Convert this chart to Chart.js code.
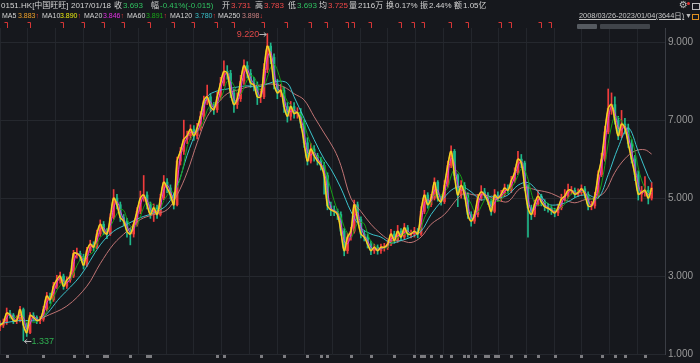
<!DOCTYPE html>
<html><head><meta charset="utf-8">
<script src="https://cdn.jsdelivr.net/npm/chart.js@4.4.0/dist/chart.umd.min.js"></script>
<style>
html,body{margin:0;padding:0;background:#16181d;}
#wrap{position:relative;width:700px;height:363px;overflow:hidden;font-family:"Liberation Sans","Noto Sans CJK SC",sans-serif;}
#c{position:absolute;left:0;top:0;}
.t{position:absolute;white-space:nowrap;font-size:8px;line-height:12px;color:#d4d4d4;top:0px;}
.r2{top:10px;font-size:7px;}
.g{color:#30c060;}.rd{color:#f04848;}
.ar{color:#e83a3a;}
</style></head><body>
<div id="wrap">
<canvas id="c" width="700" height="363"></canvas>
<span class="t" style="left:1px">0151.HK[中国旺旺]</span>
<span class="t" style="left:71px">2017/01/18</span>
<span class="t" style="left:114px">收</span><span class="t g" style="left:123px">3.693</span>
<span class="t" style="left:151px">幅</span><span class="t g" style="left:160px">-0.41%(-0.015)</span>
<span class="t" style="left:222px">开</span><span class="t rd" style="left:231px">3.731</span>
<span class="t" style="left:255px">高</span><span class="t rd" style="left:264px">3.783</span>
<span class="t" style="left:288px">低</span><span class="t g" style="left:297px">3.693</span>
<span class="t" style="left:319px">均</span><span class="t rd" style="left:328px">3.725</span>
<span class="t" style="left:349px">量</span><span class="t" style="left:358px">2116万</span>
<span class="t" style="left:386px">换</span><span class="t" style="left:395px">0.17%</span>
<span class="t" style="left:420px">振</span><span class="t" style="left:429px">2.44%</span>
<span class="t" style="left:454px">额</span><span class="t" style="left:463px">1.05亿</span>

<span class="t r2" style="left:2px">MA5</span><span class="t r2" style="left:18px;color:#f0a028">3.883<span class="ar">↑</span></span>
<span class="t r2" style="left:42px">MA10</span><span class="t r2" style="left:60px;color:#e8e810">3.890<span class="ar">↑</span></span>
<span class="t r2" style="left:84px">MA20</span><span class="t r2" style="left:103px;color:#e030e0">3.846<span class="ar">↑</span></span>
<span class="t r2" style="left:127px">MA60</span><span class="t r2" style="left:146px;color:#18a818">3.891<span class="ar">↑</span></span>
<span class="t r2" style="left:170px">MA120</span><span class="t r2" style="left:195px;color:#38c0c8">3.780<span class="ar">↑</span></span>
<span class="t r2" style="left:218px">MA250</span><span class="t r2" style="left:242px;color:#c88080">3.898<span class="ar">↓</span></span>

<span class="t" style="left:579px;top:10px;font-size:7.4px;text-decoration:underline;color:#c8c8c8">2008/03/26-2023/01/04(3644日)</span>
<span class="t" style="left:685px;top:10px;font-size:7px;color:#bbb">▼</span>
<div style="position:absolute;left:692px;top:14px;width:5px;height:4px;border:1px solid #e09020;"></div>
<span class="t" style="left:679px;top:-1px;font-size:10px;color:#bbb;font-family:'DejaVu Sans'">⚙</span>
<div style="position:absolute;left:687px;top:2px;width:3px;height:3px;border-radius:2px;background:#e03030;"></div>
<div style="position:absolute;left:692px;top:3px;width:6px;height:5px;border:1px solid #bbb;"></div>
<div style="position:absolute;left:577px;top:24px;width:20px;height:5px;background:#555a60;border-radius:1px;"></div>
<div style="position:absolute;left:600px;top:24px;width:50px;height:5px;background:#40444a;border-radius:1px;"></div>
</div>
<script>
const closes = [1.74,1.80,2.05,2.00,1.86,1.86,2.14,1.74,1.55,1.99,1.94,1.86,1.89,2.14,2.49,2.39,2.74,2.90,3.00,2.74,
2.90,3.00,3.58,3.58,3.50,3.28,3.65,3.82,3.74,4.08,4.33,4.15,4.08,4.50,5.00,4.83,4.50,4.41,4.15,4.08,
4.33,4.66,5.00,5.08,4.83,4.58,4.75,4.58,5.00,5.41,5.26,5.08,4.83,5.95,6.20,6.51,6.60,6.77,6.60,6.80,
7.10,7.50,7.60,7.35,7.27,7.60,7.95,8.25,8.20,7.70,7.40,7.55,8.00,8.40,8.20,7.95,7.90,7.60,7.60,8.30,
8.90,8.61,7.93,7.70,7.77,7.35,7.10,7.35,7.17,7.20,6.92,6.42,5.95,6.26,6.09,5.95,5.84,5.58,4.80,4.70,
4.66,4.58,4.15,3.65,4.00,4.15,4.83,4.45,4.08,4.00,3.82,3.65,3.74,3.65,3.74,3.74,3.82,4.08,3.91,4.15,
4.00,4.24,4.08,4.08,4.15,4.08,4.66,5.08,4.83,5.00,5.41,5.00,4.91,5.33,5.84,6.20,5.58,5.08,5.33,5.08,
4.58,4.41,4.58,5.00,5.16,5.08,4.91,4.66,5.08,5.00,5.10,5.26,5.20,5.45,5.65,6.00,5.90,5.30,4.75,4.58,
4.85,5.05,4.90,4.78,4.74,4.68,4.62,4.75,4.98,5.05,5.20,5.20,5.10,5.14,5.24,5.10,4.80,4.80,5.05,5.60,
6.00,6.70,7.30,7.40,7.00,6.60,6.90,6.80,6.40,6.00,5.60,5.10,5.15,5.20,5.00,5.26];
const highs = [1.85,1.90,2.18,2.12,2.04,1.98,2.22,2.18,1.80,2.06,2.06,1.98,1.96,2.22,2.58,2.56,2.84,3.02,3.10,3.05,
2.98,3.10,3.66,3.72,3.64,3.56,3.74,3.92,3.88,4.18,4.44,4.40,4.22,4.60,5.22,5.10,4.90,4.58,4.48,4.22,
4.42,4.76,5.18,5.58,5.16,4.90,4.85,4.82,5.10,5.58,5.50,5.34,5.14,6.05,6.30,7.00,6.72,6.88,6.86,6.92,
7.22,7.62,7.90,7.68,7.45,7.72,8.10,8.52,8.40,8.28,7.80,7.70,8.15,8.55,8.50,8.30,8.10,7.98,7.80,8.45,
9.22,8.98,8.70,8.05,7.92,7.85,7.45,7.48,7.45,7.32,7.30,7.00,6.55,6.40,6.35,6.15,6.05,5.92,5.65,4.90,
4.80,4.72,4.65,4.22,4.10,4.25,4.95,4.90,4.52,4.15,4.08,3.90,3.82,3.80,3.82,3.84,3.92,4.20,4.15,4.30,
4.22,4.35,4.30,4.18,4.25,4.22,4.78,5.20,5.14,5.10,5.52,5.45,5.06,5.45,5.95,6.34,6.25,5.62,5.45,5.40,
5.14,4.65,4.68,5.10,5.32,5.25,5.14,4.98,5.22,5.16,5.20,5.36,5.34,5.56,5.78,6.20,6.12,5.95,5.35,4.82,
4.95,5.20,5.10,4.96,4.86,4.80,4.74,4.85,5.10,5.22,5.36,5.30,5.26,5.24,5.34,5.30,5.16,4.92,5.15,5.70,
6.15,6.85,7.80,7.70,7.60,7.10,7.25,7.05,6.90,6.50,6.10,5.70,5.30,5.55,5.30,5.40];
const lows = [1.60,1.68,1.76,1.92,1.78,1.78,1.82,1.337,1.45,1.52,1.86,1.78,1.78,1.84,2.10,2.30,2.35,2.68,2.82,2.66,
2.68,2.84,2.96,3.46,3.40,3.18,3.24,3.60,3.64,3.70,4.02,4.06,3.96,4.04,4.46,4.72,4.40,4.30,4.00,3.80,
4.00,4.28,4.60,4.92,4.72,4.48,4.40,4.48,4.54,4.96,5.14,4.98,4.72,4.80,5.85,6.12,6.40,6.50,6.48,6.52,
6.74,7.02,7.40,7.22,7.15,7.20,7.52,7.88,8.05,7.58,7.20,7.30,7.48,7.92,8.08,7.84,7.75,7.40,7.45,7.55,
8.22,8.45,7.80,7.55,7.60,7.20,6.95,7.00,7.05,7.05,6.80,6.30,5.85,5.90,5.95,5.85,5.72,5.10,4.70,4.55,
4.55,4.45,4.05,3.52,3.58,3.92,4.10,4.35,3.98,3.90,3.72,3.55,3.58,3.56,3.58,3.64,3.68,3.78,3.84,3.86,
3.92,3.96,4.00,3.98,4.00,3.98,4.04,4.60,4.74,4.78,4.95,4.92,4.82,4.86,5.28,5.78,5.48,4.78,5.00,4.98,
4.48,4.28,4.35,4.52,4.94,5.00,4.84,4.56,4.62,4.92,4.92,5.04,5.12,5.14,5.40,5.60,5.78,5.20,4.00,4.45,
4.52,4.80,4.80,4.68,4.64,4.58,4.52,4.55,4.70,4.92,5.00,5.10,5.02,5.04,5.08,5.00,4.70,4.70,4.74,5.00,
5.55,5.95,6.65,7.15,6.90,6.50,6.55,6.65,6.30,5.90,5.45,4.95,4.92,5.05,4.85,4.95];
const firstOpen = 1.70;
// long moving averages: [sample index, value]
const ma120Read = [[0,1.78],[6,1.86],[12,1.89],[18,2.45],[24,3.0],[30,3.8],[34,4.15],[38,4.33],[42,4.5],[46,4.62],[50,4.83],
[53,5.3],[56,6.1],[59,6.8],[62,7.6],[65,7.75],[68,7.8],[71,7.85],[74,7.88],[77,7.85],[80,7.93],[83,8.0],[86,7.95],[88,7.6],
[91,7.05],[94,6.5],[97,6.0],[99,5.75],[102,5.26],[105,4.66],[108,4.24],[111,4.08],[114,4.0],[117,3.85],[120,3.91],[123,4.0],
[126,4.15],[129,4.58],[132,4.91],[135,5.2],[138,5.3],[141,5.16],[144,4.95],[147,5.05],[149,5.0],[152,5.08],[155,5.33],[158,5.4],
[161,5.16],[164,4.85],[167,4.83],[170,4.91],[173,5.05],[176,5.08],[179,5.0],[182,5.6],[185,6.3],[188,6.8],[191,6.2],[194,5.55],[195,5.4]];
const ma250Read = [[13,1.94],[20,2.23],[26,2.74],[30,3.32],[34,3.82],[38,4.15],[42,4.45],[46,4.58],[50,4.70],[53,5.08],[56,5.66],
[59,6.42],[62,7.09],[65,7.42],[68,7.68],[71,7.77],[74,7.85],[77,7.89],[81,7.93],[85,7.85],[88,7.68],[91,7.52],[94,7.09],[97,6.67],
[100,6.25],[102,5.84],[105,5.0],[108,4.66],[111,4.33],[114,4.08],[117,3.91],[120,3.91],[123,3.86],[126,4.0],[129,4.33],[133,4.58],
[137,5.0],[139,5.12],[142,5.08],[145,5.08],[149,4.95],[152,4.91],[156,5.26],[161,5.2],[165,5.12],[169,4.96],[172,4.88],[175,4.96],
[178,5.0],[181,5.16],[184,5.66],[187,6.01],[190,6.21],[193,6.24],[195,6.13]];
const yTicks = [1,3,5,7,9];
const eventIdx = [2,9,19,25,31,37,45,52,58,65,70,79,86,93,98,104,106,111,120,124,127,135,140,150,153,162,165];
const axisMarkIdx = [2,13,22,26,31,32,39,44,45,65,67,78,85,92,96,98,105,111,118,124,126,127,129,132,135,139,140,142,145,146,148,149,153,157,161,166,174,180,184,187,193];
const SLOTS = 200;

// ---- tables for the library ----
const labels = Array.from({length: SLOTS}, (_, i) => String(i));
const opens = closes.map((c, i) => i === 0 ? firstOpen : closes[i - 1]);
const UP = '#f03c3c', DOWN = '#1fb88a';
const candleColors = closes.map((c, i) => c >= opens[i] ? UP : DOWN);
function sparse(pairs){ const a = new Array(SLOTS).fill(null); pairs.forEach(([i,v]) => a[i] = v); return a; }
function sma(arr, w){ return arr.map((_, i) => { if (i < w - 1) return null; let s = 0; for (let k = i - w + 1; k <= i; k++) s += arr[k]; return s / w; }); }

const lineDs = (label, data, color, order, width) => ({
  type: 'line', label, data, borderColor: color, borderWidth: width || 1, pointRadius: 0,
  tension: 0.35, spanGaps: true, order
});

const overlay = {
  id: 'overlay',
  afterDatasetsDraw(chart){
    const {ctx, scales:{x, y}} = chart;
    ctx.save();
    ctx.strokeStyle = '#d63636'; ctx.lineWidth = 1;
    eventIdx.forEach(i => {
      const px = Math.round(x.getPixelForValue(i)) + 0.5;
      ctx.beginPath(); ctx.moveTo(px - 3, 22.5); ctx.lineTo(px, 22.5); ctx.lineTo(px, 28); ctx.stroke();
    });
    ctx.fillStyle = '#7c7c80';
    axisMarkIdx.forEach(i => {
      const px = Math.round(x.getPixelForValue(i));
      ctx.fillRect(px - 1, 355, 3, 3);
    });
    ctx.font = '9px "Liberation Sans"'; ctx.textBaseline = 'middle';
    const hiV = Math.max(...highs), hiI = highs.indexOf(hiV);
    const hx = x.getPixelForValue(hiI), hy = Math.round(y.getPixelForValue(hiV)) + 0.5;
    ctx.strokeStyle = '#b4b4b4';
    ctx.beginPath(); ctx.moveTo(hx - 8, hy); ctx.lineTo(hx - 1, hy); ctx.moveTo(hx - 3.5, hy - 2); ctx.lineTo(hx - 1, hy); ctx.lineTo(hx - 3.5, hy + 2); ctx.stroke();
    ctx.fillStyle = '#e04848'; ctx.textAlign = 'right'; ctx.fillText(hiV.toFixed(3), hx - 8, hy);
    const loV = Math.min(...lows), loI = lows.indexOf(loV);
    const lx = x.getPixelForValue(loI), ly = Math.round(y.getPixelForValue(loV)) + 0.5;
    ctx.beginPath(); ctx.moveTo(lx + 1, ly); ctx.lineTo(lx + 8, ly); ctx.moveTo(lx + 3.5, ly - 2); ctx.lineTo(lx + 1, ly); ctx.lineTo(lx + 3.5, ly + 2); ctx.stroke();
    ctx.fillStyle = '#2fae50'; ctx.textAlign = 'left'; ctx.fillText(loV.toFixed(3), lx + 8, ly);
    ctx.restore();
  }
};

new Chart(document.getElementById('c'), {
  data: {
    labels,
    datasets: [
      { type: 'bar', label: 'wick', data: lows.map((l, i) => [l, highs[i]]), backgroundColor: candleColors, barThickness: 1, grouped: false, order: 20 },
      { type: 'bar', label: 'body', data: opens.map((o, i) => [o, closes[i]]), backgroundColor: candleColors, barThickness: 2, grouped: false, order: 19 },
      lineDs('MA250', sparse(ma250Read), '#c07474', 7),
      lineDs('MA120', sparse(ma120Read), '#3cc4cc', 6),
      lineDs('MA60', sma(closes, 4), '#16a016', 5),
      lineDs('MA20', sma(closes, 2), '#e03ce0', 4),
      lineDs('MA5', closes, '#f0a028', 3, 1.6),
      lineDs('MA10', closes, '#ecec20', 2, 0.9)
    ]
  },
  options: {
    responsive: false, animation: false, devicePixelRatio: 1,
    layout: { padding: { top: 28, bottom: 2.5, left: 0, right: 0 } },
    plugins: { legend: { display: false }, tooltip: { enabled: false } },
    scales: {
      x: { type: 'category', offset: false, display: false },
      xg: { type: 'linear', position: 'bottom', min: 0, max: 24, display: true,
            ticks: { display: false, stepSize: 1 }, grid: { color: '#23262c', drawTicks: false },
            border: { display: false }, afterFit: s => { s.height = 0; } },
      y: { position: 'right', min: 1.0, max: 9.365,
           afterBuildTicks: s => { s.ticks = yTicks.map(v => ({ value: v })); },
           ticks: { color: '#9a9a9a', font: { size: 10, family: 'Liberation Sans' }, padding: 3, callback: v => Number(v).toFixed(3) },
           grid: { color: '#25282e', drawTicks: false },
           border: { color: '#3a3d44' },
           afterFit: s => { s.width = 35; } }
    }
  },
  plugins: [overlay]
});
</script>
</body></html>
